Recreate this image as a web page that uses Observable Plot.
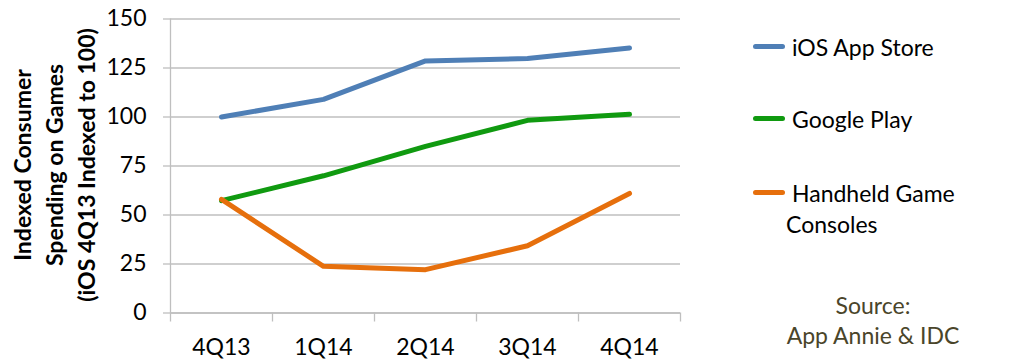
<!DOCTYPE html>
<html>
<head>
<meta charset="utf-8">
<script src="https://cdn.jsdelivr.net/npm/d3@7"></script>
<script src="https://cdn.jsdelivr.net/npm/@observablehq/plot@0.6"></script>
<style>
  body { margin: 0; background: #fff; }
  #wrap { position: relative; width: 1024px; height: 364px; font-family: Lato, "Open Sans", sans-serif; color: #000; }
  #chart svg { display: block; }
  .ytitle { position: absolute; left: 54px; top: 165px; transform: translate(-50%, -50%) rotate(-90deg); font-weight: bold; font-size: 23px; line-height: 32px; text-align: center; white-space: nowrap; }
  .leg { position: absolute; font-size: 23px; line-height: 31px; white-space: nowrap; }
  .sw { position: absolute; width: 32px; height: 5px; border-radius: 3px; }
  .src { position: absolute; left: 873px; top: 290px; transform: translateX(-50%); text-align: center; font-size: 23px; line-height: 30px; color: #4a452a; white-space: nowrap; }
</style>
</head>
<body>
<div id="wrap">
  <div id="chart"></div>
  <div class="ytitle">Indexed Consumer<br>Spending on Games<br>(iOS 4Q13 Indexed to 100)</div>
  <div id="legend"></div>
  <div class="src">Source:<br>App Annie &amp; IDC</div>
</div>
<script>
const quarters = ["4Q13", "1Q14", "2Q14", "3Q14", "4Q14"];
const iosAppStore = [100, 109, 128.6, 129.8, 135.2];
const googlePlay = [57.3, 70, 85, 98.3, 101.4];
const handheldConsoles = [58, 23.8, 22.1, 34.3, 61];
const yTicks = [0, 25, 50, 75, 100, 125, 150];
const seriesNames = ["iOS App Store", "Google Play", "Handheld Game Consoles"];
const seriesColors = ["#4f7fb6", "#109a10", "#e66f0c"];

const seriesValues = [iosAppStore, googlePlay, handheldConsoles];
const rows = [];
seriesNames.forEach((name, i) => {
  quarters.forEach((q, j) => rows.push({series: name, quarter: q, value: seriesValues[i][j]}));
});

const grey = "#bfbfbf";
const plot = Plot.plot({
  width: 1024,
  height: 364,
  marginLeft: 170,
  marginRight: 344,
  marginTop: 18.5,
  marginBottom: 51.5,
  style: {fontFamily: "Lato, 'Open Sans', sans-serif", fontSize: "23px", color: "#000", background: "#fff"},
  x: {type: "point", domain: quarters, padding: 0.5},
  y: {domain: [0, 150]},
  color: {domain: seriesNames, range: seriesColors},
  marks: [
    Plot.gridY(yTicks, {stroke: grey, strokeOpacity: 1, strokeWidth: 1.3}),
    Plot.axisY(yTicks, {tickSize: 7, tickPadding: 17, stroke: grey, strokeOpacity: 1, strokeWidth: 1.3, fontSize: 23, label: null}),
    Plot.ruleX([0], {x: () => quarters[0], dx: -51, y1: 0, y2: 150, stroke: grey, strokeWidth: 1.3}),
    Plot.ruleY([0], {stroke: grey, strokeWidth: 1.3}),
    Plot.axisX(quarters, {tickSize: 9, text: null, dx: -51, stroke: grey, strokeOpacity: 1, strokeWidth: 1.3, label: null}),
    Plot.axisX([quarters[quarters.length - 1]], {tickSize: 9, text: null, dx: 51, stroke: grey, strokeOpacity: 1, strokeWidth: 1.3, label: null}),
    Plot.axisX(quarters, {tickSize: 0, tickPadding: 26, fontSize: 23, label: null}),
    Plot.line(rows, {x: "quarter", y: "value", z: "series", stroke: "series", strokeWidth: 5, strokeLinecap: "round", strokeLinejoin: "round"})
  ]
});
document.getElementById("chart").appendChild(plot);

// legend (HTML)
const legend = document.getElementById("legend");
const legendTops = [46, 118, 192];
seriesNames.forEach((name, i) => {
  const sw = document.createElement("div");
  sw.className = "sw";
  sw.style.left = "753px";
  sw.style.top = (legendTops[i] - 2.5) + "px";
  sw.style.background = seriesColors[i];
  legend.appendChild(sw);
  const t = document.createElement("div");
  t.className = "leg";
  t.style.left = "792px";
  t.style.top = (legendTops[i] - 14) + "px";
  if (i === 2) {
    t.innerHTML = "Handheld Game<br><span style='margin-left:-6px'>Consoles</span>";
  } else {
    t.textContent = name;
  }
  legend.appendChild(t);
});
</script>
</body>
</html>
